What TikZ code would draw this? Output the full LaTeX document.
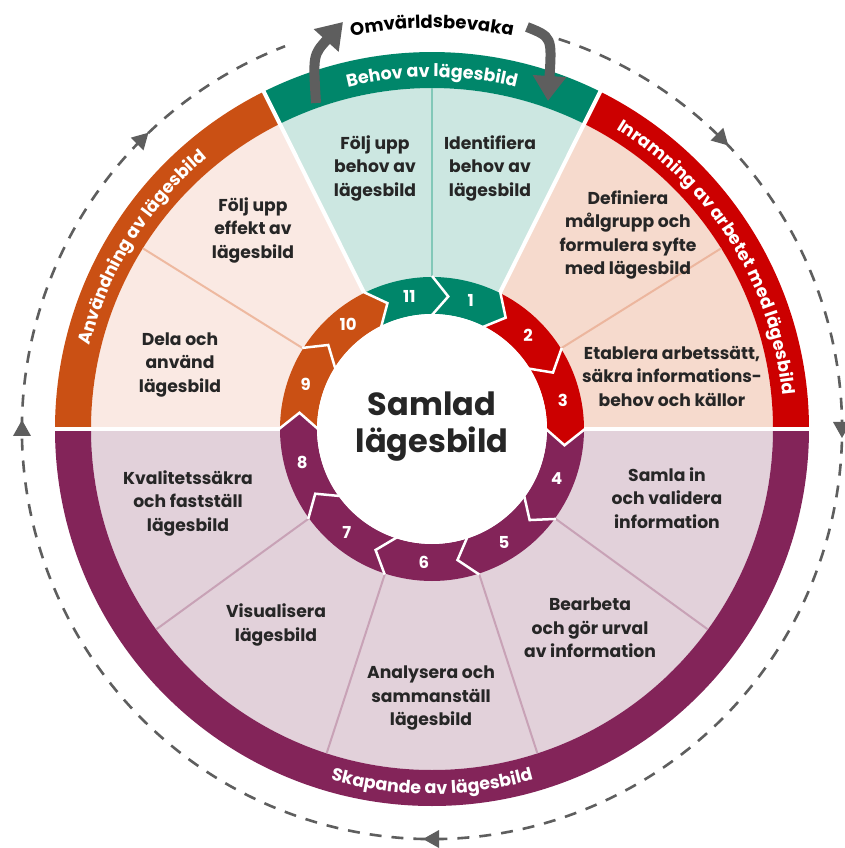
\documentclass[tikz,border=0pt]{standalone}
\usepackage{fontspec}
\setmainfont{Poppins}
\usetikzlibrary{decorations.text,arrows.meta}
\definecolor{grn}{RGB}{0,134,106}
\definecolor{grnpale}{RGB}{204,231,225}
\definecolor{grnline}{RGB}{130,200,184}
\definecolor{rd}{RGB}{204,0,0}
\definecolor{rdpale}{RGB}{246,218,205}
\definecolor{rdline}{RGB}{236,182,158}
\definecolor{org}{RGB}{202,80,20}
\definecolor{orgpale}{RGB}{250,233,227}
\definecolor{orgline}{RGB}{238,185,160}
\definecolor{pur}{RGB}{131,36,89}
\definecolor{purpale}{RGB}{226,209,218}
\definecolor{purline}{RGB}{200,162,182}
\definecolor{txt}{RGB}{38,38,38}
\definecolor{arr}{RGB}{94,94,94}
\newcommand\bandfont{\fontsize{17.5}{17.5}\selectfont\bfseries}
\newcommand\omvfont{\fontsize{18}{18}\selectfont\bfseries}
\newcommand\mywedge[3]{\fill[#3] (0,0) -- (#1:341) arc[start angle=#1, end angle=#2, radius=341pt] -- cycle;}
\newcommand\myband[3]{\fill[#3] (#1:341) arc[start angle=#1, end angle=#2, radius=341pt] -- (#2:377) arc[start angle=#2, end angle=#1, radius=377pt] -- cycle;}
\begin{document}
\begin{tikzpicture}[x=1pt,y=1pt,
  wtext/.style={align=center, text=txt, font=\fontsize{17.2}{23.5}\selectfont\bfseries, inner sep=0pt},
  numtext/.style={text=white, font=\fontsize{16.5}{16.5}\selectfont\bfseries, inner sep=0pt},
  divline/.style={line width=2pt},
  sepline/.style={white, line width=4pt},
  dashcirc/.style={draw=arr, line width=2.6pt, dash pattern=on 12pt off 10pt},
  grayarrow/.style={draw=arr, line width=10pt, -{Triangle[width=32pt,length=25pt]}}
]
\fill[white] (-432,-419) rectangle (412,429);
\useasboundingbox (-432,-419) rectangle (412,429);

% pale wedges
\mywedge{63.5}{116.5}{grnpale}
\mywedge{0}{63.5}{rdpale}
\mywedge{116.5}{180}{orgpale}
\mywedge{180}{360}{purpale}
% bands
\myband{63.5}{116.5}{grn}
\myband{0}{63.5}{rd}
\myband{116.5}{180}{org}
\myband{180}{360}{pur}

% dividers inside regions
\draw[divline, grnline] (90:152) -- (90:341);
\draw[divline, rdline] (32:152) -- (32:341);
\draw[divline, orgline] (148:152) -- (148:341);
\foreach \t in {216,252,288,324} \draw[divline, purline] (\t:152) -- (\t:341);

% separators between regions
\foreach \t in {0,63.5,116.5,180} \draw[sepline] (\t:150) -- (\t:379);

% ring segments
\foreach \a/\b/\c in {90/63.5/grn, 63.5/32/rd, 32/0/rd, 0/-36/pur, -36/-72/pur, -72/-108/pur, -108/-144/pur, -144/-180/pur, -180/-212/org, -212/-243.5/org, -243.5/-270/grn}{
  \fill[\c] (\a:152) arc[start angle=\a, end angle=\b, radius=152pt] -- ({\b-7}:133.5) -- (\b:115) arc[start angle=\b, end angle=\a, radius=115pt] -- ({\a-7}:133.5) -- cycle;
}
\foreach \a in {90,63.5,32,0,-36,-72,-108,-144,-180,-212,-243.5}{
  \draw[white, line width=2.5pt, line join=miter] (\a:153) -- ({\a-7}:133.5) -- (\a:114);
}
\fill[white] (0,0) circle[radius=115pt];

% ring numbers
\foreach \a/\b/\n in {90/63.5/1, 63.5/32/2, 32/0/3, 0/-36/4, -36/-72/5, -72/-108/6, -108/-144/7, -144/-180/8, -180/-212/9, -212/-243.5/10, -243.5/-270/11}{
  \node[numtext] (n\n) at ({(\a+\b)/2-3.5}:134) {\n};
}

% center
\node[align=center, text=txt, font=\fontsize{32}{37}\selectfont\bfseries, inner sep=0pt] (center) at (0,2) {Samlad\\lägesbild};

% wedge texts
\node[wtext] (t11) at (-57,261) {Följ upp\\behov av\\lägesbild};
\node[wtext] (t1) at (58,261) {Identifiera\\behov av\\lägesbild};
\node[wtext] (t2) at (196,194) {Definiera\\målgrupp och\\formulera syfte\\med lägesbild};
\node[wtext] (t3) at (240,53) {Etablera arbetssätt,\\säkra informations-\\behov och källor};
\node[wtext] (t10) at (-179,199) {Följ upp\\effekt av\\lägesbild};
\node[wtext] (t9) at (-252,64) {Dela och\\använd\\lägesbild};
\node[wtext] (t8) at (-244,-74) {Kvalitetssäkra\\och fastställ\\lägesbild};
\node[wtext] (t4) at (235,-69) {Samla in\\och validera\\information};
\node[wtext] (t7) at (-156,-196) {Visualisera\\lägesbild};
\node[wtext] (t5) at (158,-199) {Bearbeta\\och gör urval\\av information};
\node[wtext] (t6) at (-1,-269) {Analysera och\\sammanställ\\lägesbild};

% band labels
\path[decorate, decoration={text along path, text={|\bandfont|Behov av lägesbild}, text align=center, text color=white}]
  (116:352) arc[start angle=116, end angle=64, radius=352pt];
\path[decorate, decoration={text along path, text={|\bandfont|Inramning av arbetet med lägesbild}, text align=center, text color=white}]
  (63.5:352) arc[start angle=63.5, end angle=0.5, radius=352pt];
\path[decorate, decoration={text along path, text={|\bandfont|Användning av lägesbild}, text align=center, text color=white}]
  (179:352) arc[start angle=179, end angle=117, radius=352pt];
\path[decorate, decoration={text along path, text={|\bandfont|Skapande av lägesbild}, text align=center, text color=white}]
  (230:365) arc[start angle=230, end angle=310, radius=365pt];

% outer dashed cycle
\draw[dashcirc] (72:410) arc[start angle=72, end angle=-249, radius=410pt];
\foreach \t in {0,45,135,180,270}{
  \fill[arr, rotate=\t] (410,-9) -- (401,7) -- (419,7) -- cycle;
}
\coordinate (la0) at (-116,326);
\coordinate (la1) at (-89,407);
\coordinate (ra0) at (95,402);
\coordinate (ra1) at (116,328);
\draw[grayarrow] (la0) .. controls (-119,374) .. (la1);
\draw[grayarrow] (ra0) .. controls (120,392) .. (ra1);
\path[decorate, decoration={text along path, text={|\omvfont|Omvärldsbevaka}, text align=center, text color=black}]
  (115:401) arc[start angle=115, end angle=65, radius=401pt];
\end{tikzpicture}
\end{document}
